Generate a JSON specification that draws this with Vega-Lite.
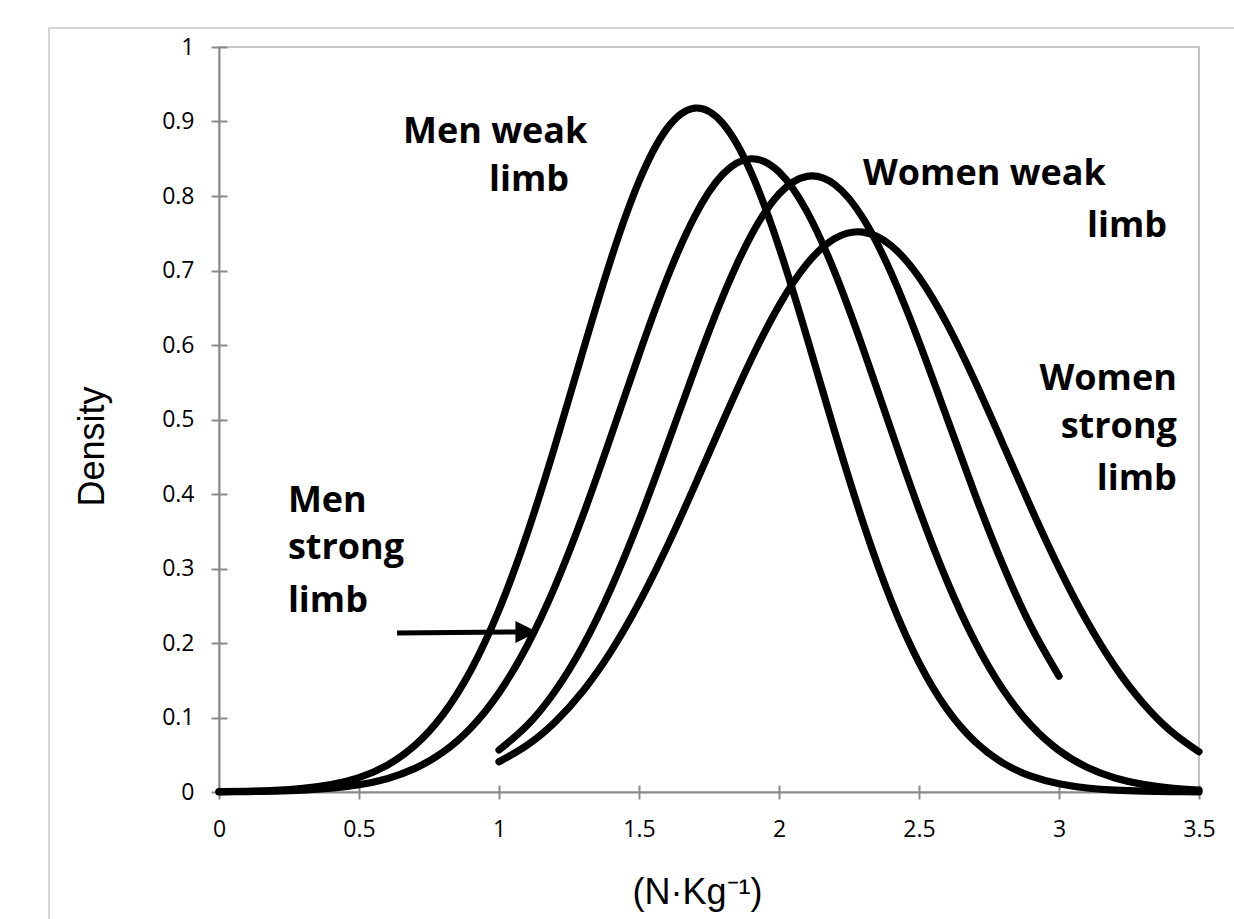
{
  "$schema": "https://vega.github.io/schema/vega-lite/v6.json",
  "width": 980,
  "height": 745,
  "autosize": {"type": "none"},
  "padding": {"left": 219, "top": 47, "right": 35, "bottom": 127},
  "background": "white",
  "config": {
    "view": {"stroke": "#c4c4c4", "strokeWidth": 2},
    "axis": {
      "grid": false,
      "labelFlush": false,
      "labelOverlap": false,
      "domainColor": "#8a8a8a",
      "domainWidth": 2,
      "tickColor": "#8a8a8a",
      "tickWidth": 2,
      "labelFont": "Open Sans",
      "labelFontSize": 23,
      "labelColor": "#000000",
      "titleFont": "Liberation Sans",
      "titleFontSize": 36,
      "titleFontWeight": "normal",
      "titleColor": "#000000"
    }
  },
  "datasets": {
    "curves": [
      {"series": "Men weak limb", "x": 0.0, "y": 0.0004},
      {"series": "Men weak limb", "x": 0.1, "y": 0.0010},
      {"series": "Men weak limb", "x": 0.2, "y": 0.0022},
      {"series": "Men weak limb", "x": 0.3, "y": 0.0049},
      {"series": "Men weak limb", "x": 0.4, "y": 0.0100},
      {"series": "Men weak limb", "x": 0.5, "y": 0.0194},
      {"series": "Men weak limb", "x": 0.6, "y": 0.0358},
      {"series": "Men weak limb", "x": 0.7, "y": 0.0627},
      {"series": "Men weak limb", "x": 0.8, "y": 0.1040},
      {"series": "Men weak limb", "x": 0.9, "y": 0.1637},
      {"series": "Men weak limb", "x": 1.0, "y": 0.2444},
      {"series": "Men weak limb", "x": 1.1, "y": 0.3461},
      {"series": "Men weak limb", "x": 1.2, "y": 0.4648},
      {"series": "Men weak limb", "x": 1.3, "y": 0.5921},
      {"series": "Men weak limb", "x": 1.4, "y": 0.7153},
      {"series": "Men weak limb", "x": 1.5, "y": 0.8196},
      {"series": "Men weak limb", "x": 1.6, "y": 0.8906},
      {"series": "Men weak limb", "x": 1.7, "y": 0.9180},
      {"series": "Men weak limb", "x": 1.8, "y": 0.8972},
      {"series": "Men weak limb", "x": 1.9, "y": 0.8318},
      {"series": "Men weak limb", "x": 2.0, "y": 0.7314},
      {"series": "Men weak limb", "x": 2.1, "y": 0.6099},
      {"series": "Men weak limb", "x": 2.2, "y": 0.4824},
      {"series": "Men weak limb", "x": 2.3, "y": 0.3619},
      {"series": "Men weak limb", "x": 2.4, "y": 0.2574},
      {"series": "Men weak limb", "x": 2.5, "y": 0.1737},
      {"series": "Men weak limb", "x": 2.6, "y": 0.1112},
      {"series": "Men weak limb", "x": 2.7, "y": 0.0675},
      {"series": "Men weak limb", "x": 2.8, "y": 0.0389},
      {"series": "Men weak limb", "x": 2.9, "y": 0.0212},
      {"series": "Men weak limb", "x": 3.0, "y": 0.0110},
      {"series": "Men weak limb", "x": 3.1, "y": 0.0054},
      {"series": "Men weak limb", "x": 3.2, "y": 0.0025},
      {"series": "Men weak limb", "x": 3.3, "y": 0.0011},
      {"series": "Men weak limb", "x": 3.4, "y": 0.0005},
      {"series": "Men weak limb", "x": 3.5, "y": 0.0002},
      {"series": "Men strong limb", "x": 0.0, "y": 0.0002},
      {"series": "Men strong limb", "x": 0.1, "y": 0.0005},
      {"series": "Men strong limb", "x": 0.2, "y": 0.0012},
      {"series": "Men strong limb", "x": 0.3, "y": 0.0025},
      {"series": "Men strong limb", "x": 0.4, "y": 0.0050},
      {"series": "Men strong limb", "x": 0.5, "y": 0.0097},
      {"series": "Men strong limb", "x": 0.6, "y": 0.0179},
      {"series": "Men strong limb", "x": 0.7, "y": 0.0317},
      {"series": "Men strong limb", "x": 0.8, "y": 0.0535},
      {"series": "Men strong limb", "x": 0.9, "y": 0.0863},
      {"series": "Men strong limb", "x": 1.0, "y": 0.1331},
      {"series": "Men strong limb", "x": 1.1, "y": 0.1960},
      {"series": "Men strong limb", "x": 1.2, "y": 0.2760},
      {"series": "Men strong limb", "x": 1.3, "y": 0.3714},
      {"series": "Men strong limb", "x": 1.4, "y": 0.4776},
      {"series": "Men strong limb", "x": 1.5, "y": 0.5869},
      {"series": "Men strong limb", "x": 1.6, "y": 0.6892},
      {"series": "Men strong limb", "x": 1.7, "y": 0.7734},
      {"series": "Men strong limb", "x": 1.8, "y": 0.8294},
      {"series": "Men strong limb", "x": 1.9, "y": 0.8500},
      {"series": "Men strong limb", "x": 2.0, "y": 0.8324},
      {"series": "Men strong limb", "x": 2.1, "y": 0.7790},
      {"series": "Men strong limb", "x": 2.2, "y": 0.6967},
      {"series": "Men strong limb", "x": 2.3, "y": 0.5955},
      {"series": "Men strong limb", "x": 2.4, "y": 0.4864},
      {"series": "Men strong limb", "x": 2.5, "y": 0.3796},
      {"series": "Men strong limb", "x": 2.6, "y": 0.2832},
      {"series": "Men strong limb", "x": 2.7, "y": 0.2018},
      {"series": "Men strong limb", "x": 2.8, "y": 0.1375},
      {"series": "Men strong limb", "x": 2.9, "y": 0.0895},
      {"series": "Men strong limb", "x": 3.0, "y": 0.0557},
      {"series": "Men strong limb", "x": 3.1, "y": 0.0331},
      {"series": "Men strong limb", "x": 3.2, "y": 0.0188},
      {"series": "Men strong limb", "x": 3.3, "y": 0.0102},
      {"series": "Men strong limb", "x": 3.4, "y": 0.0053},
      {"series": "Men strong limb", "x": 3.5, "y": 0.0026},
      {"series": "Women weak limb", "x": 1.0, "y": 0.0564},
      {"series": "Women weak limb", "x": 1.1, "y": 0.0892},
      {"series": "Women weak limb", "x": 1.2, "y": 0.1353},
      {"series": "Women weak limb", "x": 1.3, "y": 0.1964},
      {"series": "Women weak limb", "x": 1.4, "y": 0.2732},
      {"series": "Women weak limb", "x": 1.5, "y": 0.3640},
      {"series": "Women weak limb", "x": 1.6, "y": 0.4647},
      {"series": "Women weak limb", "x": 1.7, "y": 0.5682},
      {"series": "Women weak limb", "x": 1.8, "y": 0.6655},
      {"series": "Women weak limb", "x": 1.9, "y": 0.7467},
      {"series": "Women weak limb", "x": 2.0, "y": 0.8026},
      {"series": "Women weak limb", "x": 2.1, "y": 0.8264},
      {"series": "Women weak limb", "x": 2.2, "y": 0.8151},
      {"series": "Women weak limb", "x": 2.3, "y": 0.7702},
      {"series": "Women weak limb", "x": 2.4, "y": 0.6971},
      {"series": "Women weak limb", "x": 2.5, "y": 0.6044},
      {"series": "Women weak limb", "x": 2.6, "y": 0.5020},
      {"series": "Women weak limb", "x": 2.7, "y": 0.3994},
      {"series": "Women weak limb", "x": 2.8, "y": 0.3044},
      {"series": "Women weak limb", "x": 2.9, "y": 0.2222},
      {"series": "Women weak limb", "x": 3.0, "y": 0.1554},
      {"series": "Women strong limb", "x": 1.0, "y": 0.0406},
      {"series": "Women strong limb", "x": 1.1, "y": 0.0628},
      {"series": "Women strong limb", "x": 1.2, "y": 0.0939},
      {"series": "Women strong limb", "x": 1.3, "y": 0.1356},
      {"series": "Women strong limb", "x": 1.4, "y": 0.1888},
      {"series": "Women strong limb", "x": 1.5, "y": 0.2537},
      {"series": "Women strong limb", "x": 1.6, "y": 0.3291},
      {"series": "Women strong limb", "x": 1.7, "y": 0.4120},
      {"series": "Women strong limb", "x": 1.8, "y": 0.4977},
      {"series": "Women strong limb", "x": 1.9, "y": 0.5803},
      {"series": "Women strong limb", "x": 2.0, "y": 0.6529},
      {"series": "Women strong limb", "x": 2.1, "y": 0.7090},
      {"series": "Women strong limb", "x": 2.2, "y": 0.7431},
      {"series": "Women strong limb", "x": 2.3, "y": 0.7516},
      {"series": "Women strong limb", "x": 2.4, "y": 0.7336},
      {"series": "Women strong limb", "x": 2.5, "y": 0.6911},
      {"series": "Women strong limb", "x": 2.6, "y": 0.6284},
      {"series": "Women strong limb", "x": 2.7, "y": 0.5513},
      {"series": "Women strong limb", "x": 2.8, "y": 0.4669},
      {"series": "Women strong limb", "x": 2.9, "y": 0.3816},
      {"series": "Women strong limb", "x": 3.0, "y": 0.3009},
      {"series": "Women strong limb", "x": 3.1, "y": 0.2291},
      {"series": "Women strong limb", "x": 3.2, "y": 0.1683},
      {"series": "Women strong limb", "x": 3.3, "y": 0.1193},
      {"series": "Women strong limb", "x": 3.4, "y": 0.0816},
      {"series": "Women strong limb", "x": 3.5, "y": 0.0539}
    ],
    "labelsLeft": [
      {"text": "Men weak", "x": 0.657, "y": 0.8711},
      {"text": "limb", "x": 0.964, "y": 0.8067},
      {"text": "Women weak", "x": 2.300, "y": 0.8148},
      {"text": "limb", "x": 3.100, "y": 0.7450},
      {"text": "Men", "x": 0.246, "y": 0.3758},
      {"text": "strong", "x": 0.246, "y": 0.3128},
      {"text": "limb", "x": 0.246, "y": 0.2416}
    ],
    "labelsRight": [
      {"text": "Women", "x": 3.421, "y": 0.5396},
      {"text": "strong", "x": 3.421, "y": 0.4752},
      {"text": "limb", "x": 3.421, "y": 0.4054}
    ],
    "arrow": [
      {"x": 0.636, "y": 0.2134},
      {"x": 1.080, "y": 0.2148}
    ],
    "arrowhead": [
      {"x": 1.098, "y": 0.2148}
    ]
  },
  "layer": [
    {
      "data": {"values": [{}]},
      "mark": {"type": "rect", "fillOpacity": 0, "stroke": "#c8c8c8", "strokeWidth": 1.5},
      "encoding": {
        "x": {"datum": -0.607, "type": "quantitative", "scale": {"domain": [0, 3.5], "nice": false, "zero": false}, "axis": null},
        "x2": {"datum": 3.9},
        "y": {"datum": 1.0255, "type": "quantitative", "scale": {"domain": [0, 1], "nice": false}, "axis": null},
        "y2": {"datum": -0.3}
      }
    },
    {
      "data": {"name": "curves"},
      "mark": {"type": "line", "color": "#000000", "strokeWidth": 7.2, "strokeCap": "round", "strokeJoin": "round", "interpolate": "natural"},
      "encoding": {
        "x": {
          "field": "x", "type": "quantitative",
          "scale": {"domain": [0, 3.5], "nice": false, "zero": false},
          "axis": {
            "values": [0, 0.5, 1, 1.5, 2, 2.5, 3, 3.5],
            "format": "~g",
            "tickSize": 7,
            "labelPadding": 19,
            "title": "(N·Kg⁻¹)",
            "titleX": 478,
            "titleY": 111,
            "titleAlign": "center",
            "titleAnchor": null,
            "titleBaseline": "alphabetic"
          }
        },
        "y": {
          "field": "y", "type": "quantitative",
          "scale": {"domain": [0, 1], "nice": false},
          "axis": {
            "values": [0, 0.1, 0.2, 0.3, 0.4, 0.5, 0.6, 0.7, 0.8, 0.9, 1],
            "format": "~g",
            "tickSize": 8,
            "labelPadding": 17,
            "title": "Density",
            "titleX": -116,
            "titleY": 399,
            "titleAngle": 270,
            "titleAlign": "center",
            "titleAnchor": null,
            "titleBaseline": "alphabetic"
          }
        },
        "detail": {"field": "series", "type": "nominal"}
      }
    },
    {
      "data": {"name": "arrow"},
      "mark": {"type": "line", "color": "#000000", "strokeWidth": 5, "strokeCap": "butt"},
      "encoding": {
        "x": {"field": "x", "type": "quantitative", "axis": null},
        "y": {"field": "y", "type": "quantitative", "axis": null}
      }
    },
    {
      "data": {"name": "arrowhead"},
      "mark": {"type": "point", "shape": "M1,0L-1,-1L-1,1Z", "filled": true, "color": "#000000", "opacity": 1, "size": 484},
      "encoding": {
        "x": {
          "field": "x", "type": "quantitative",
          "axis": {"orient": "bottom", "values": [0, 0.5, 1, 1.5, 2, 2.5, 3, 3.5], "labels": false, "domain": false, "title": null, "tickSize": -7}
        },
        "y": {
          "field": "y", "type": "quantitative",
          "axis": {"orient": "left", "values": [0, 0.1, 0.2, 0.3, 0.4, 0.5, 0.6, 0.7, 0.8, 0.9, 1], "labels": false, "domain": false, "title": null, "tickSize": -8}
        }
      }
    },
    {
      "data": {"name": "labelsLeft"},
      "mark": {"type": "text", "align": "left", "baseline": "alphabetic", "font": "Open Sans", "fontWeight": "bold", "fontSize": 36, "color": "#000000"},
      "encoding": {
        "x": {"field": "x", "type": "quantitative", "axis": null},
        "y": {"field": "y", "type": "quantitative", "axis": null},
        "text": {"field": "text"}
      }
    },
    {
      "data": {"name": "labelsRight"},
      "mark": {"type": "text", "align": "right", "baseline": "alphabetic", "font": "Open Sans", "fontWeight": "bold", "fontSize": 36, "color": "#000000"},
      "encoding": {
        "x": {"field": "x", "type": "quantitative", "axis": null},
        "y": {"field": "y", "type": "quantitative", "axis": null},
        "text": {"field": "text"}
      }
    }
  ],
  "resolve": {"axis": {"x": "independent", "y": "independent"}}
}
